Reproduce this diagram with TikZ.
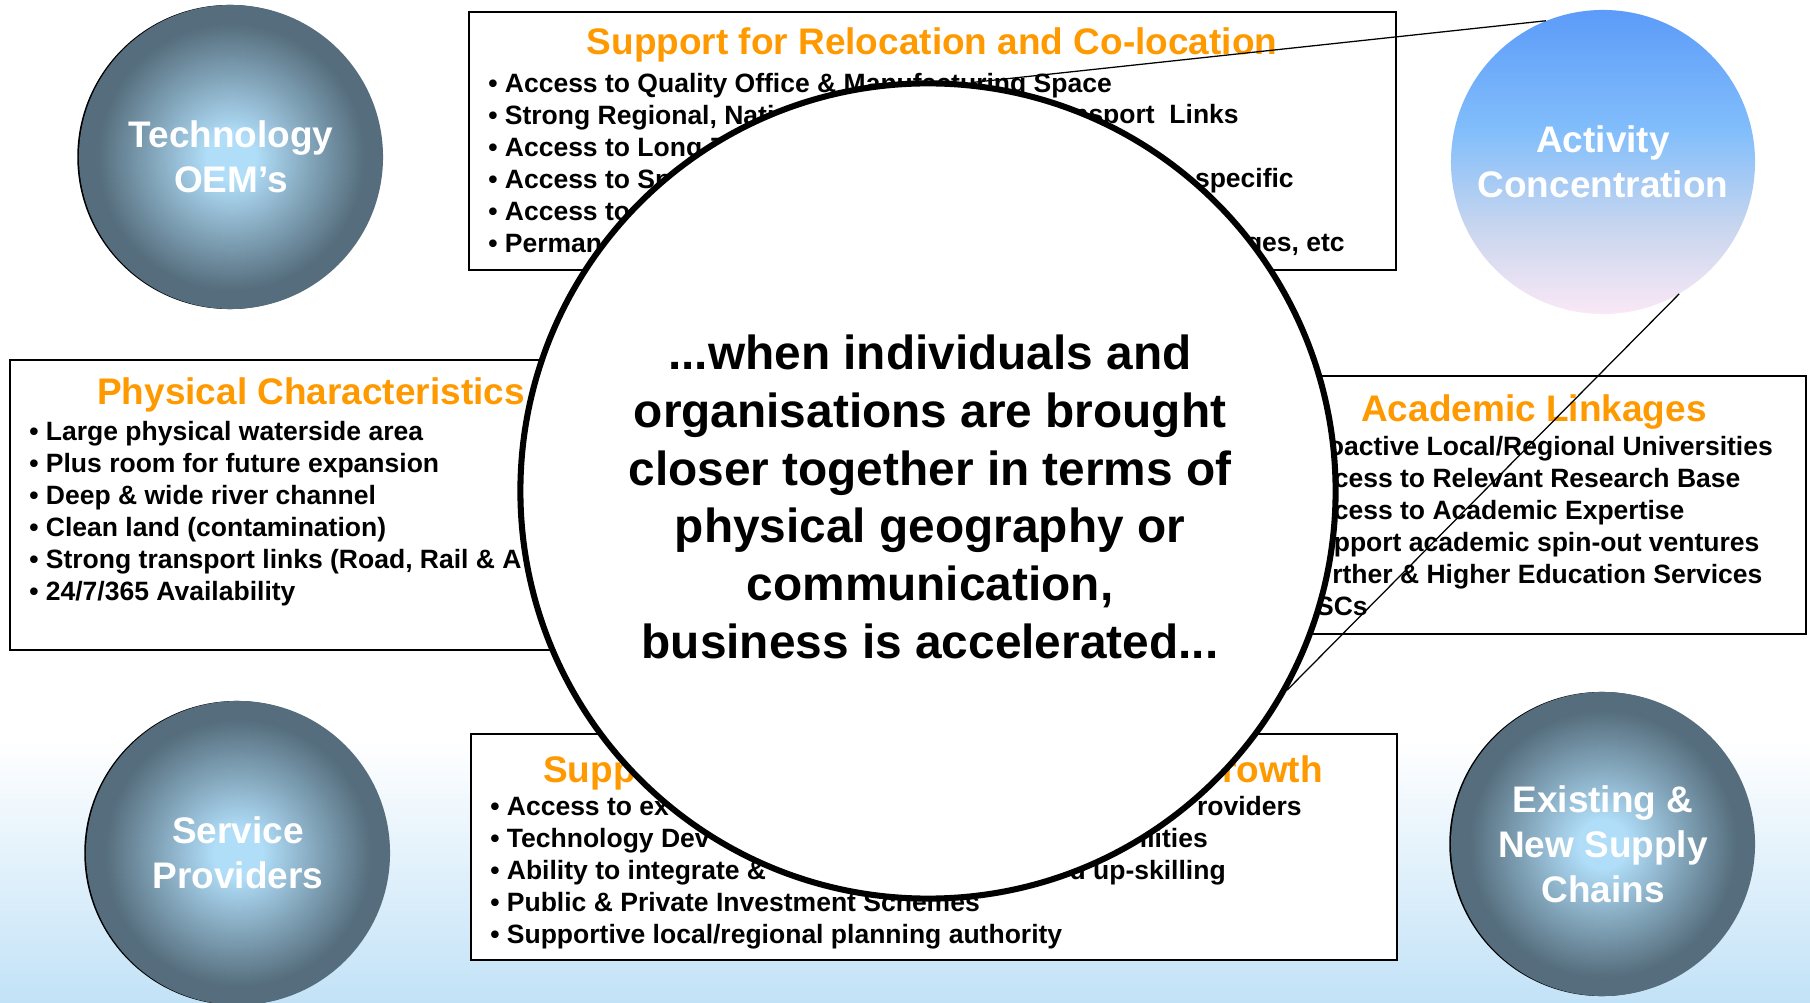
\documentclass[tikz,border=0pt]{standalone}
\usepackage{fontspec}
\setmainfont{Liberation Sans}

\definecolor{headorange}{HTML}{FF9900}
\definecolor{orbdark}{HTML}{556D7C}
\definecolor{orblight}{HTML}{B0DDF8}
\definecolor{acttop}{HTML}{5C9BF9}
\definecolor{actmid}{HTML}{82BEFB}
\definecolor{actlow}{HTML}{C9D6EE}
\definecolor{actbottom}{HTML}{FAE8F6}
\definecolor{skylow}{HTML}{C2E2F7}

\pgfdeclareradialshading{orbglow}{\pgfpoint{0bp}{0bp}}{color(0bp)=(orblight); color(4bp)=(orblight); color(22bp)=(orbdark); color(50bp)=(orbdark)}
\pgfdeclareverticalshading{actfade}{100bp}{color(0bp)=(actbottom); color(25bp)=(actbottom); color(39bp)=(actlow); color(55bp)=(actmid); color(75bp)=(acttop); color(100bp)=(acttop)}
\pgfdeclareverticalshading{skyfade}{100bp}{color(0bp)=(skylow); color(25bp)=(skylow); color(75bp)=(white); color(100bp)=(white)}

\begin{document}
\begin{tikzpicture}[x=0.025cm, y=-0.025cm,
    box/.style={rectangle, draw, line width=1.3pt, fill=white, inner sep=0pt},
    head/.style={inner sep=0pt, text=headorange, font=\bfseries\fontsize{26.3}{31}\selectfont},
    items/.style={inner sep=0pt, anchor=north west, align=left, font=\bfseries\fontsize{18.85}{22.76}\selectfont},
    bit/.style={inner sep=0pt, anchor=base east, font=\bfseries\fontsize{18.85}{22.76}\selectfont},
    ball/.style={circle, inner sep=0pt, minimum size=7.6cm, text=white, align=center, font=\bfseries\fontsize{26.3}{32}\selectfont},
    orb/.style={ball, shade, shading=orbglow, preaction={fill=black, transform canvas={xshift=-1.2pt}}},
    hub/.style={circle, draw, line width=4.3pt, fill=white, inner sep=0pt, minimum size=20.375cm},
    hubtext/.style={inner sep=0pt, align=center, font=\bfseries\fontsize{34}{41}\selectfont},
    link/.style={line width=0.9pt}]

    \path[use as bounding box] (0,0) rectangle (1810,1003);
    \fill[white] (0,0) rectangle (1810,1003);
    \shade[shading=skyfade] (0,740) rectangle (1810,1003);

    \node[box, minimum width=23.175cm, minimum height=6.45cm] (2) at (932.5,141) {};
    \node[box, minimum width=15.15cm, minimum height=7.25cm] (3) at (313,505) {};
    \node[box, minimum width=13.55cm, minimum height=6.45cm] (4) at (1535,505) {};
    \node[box, minimum width=23.15cm, minimum height=5.65cm] (5) at (934,847) {};

    \node[head, anchor=base] (2h) at (932,55) {Support for Relocation and Co-location};
    \node[items] (2l) at (488,69.6) {\strut• Access to Quality Office \& Manufacturing Space\\
        • Strong Regional, Nati\\
        • Access to Long-T\\
        • Access to Sp\\
        • Access to\\
        • Perman};
    \node[bit] (2a) at (1239,124) {nsport\ \ Links};
    \node[bit] (2b) at (1294,188) {specific};
    \node[bit] (2c) at (1345,252) {ges, etc};

    \node[head, anchor=base west] (3h) at (97,405) {Physical Characteristics};
    \node[items] (3l) at (29,417.6) {\strut• Large physical waterside area\\
        • Plus room for future expansion\\
        • Deep \& wide river channel\\
        • Clean land (contamination)\\
        • Strong transport links (Road, Rail \& A\\
        • 24/7/365 Availability};

    \node[head, anchor=base west] (4h) at (1361,422) {Academic Linkages};
    \node[items] (4l) at (1283,432.6) {\strut\phantom{• Pr}oactive Local/Regional Universities\\
        \phantom{• Ac}cess to Relevant Research Base\\
        \phantom{• Ac}cess to Academic Expertise\\
        \phantom{• Su}pport academic spin-out ventures\\
        \phantom{• Fu}rther \& Higher Education Services\\
        \phantom{• T}SCs};

    \node[head, anchor=base west] (5h) at (543,782) {Supp};
    \node[head, anchor=base east] (5k) at (1323,782) {rowth};
    \node[items] (5l) at (490,792.6) {\strut• Access to ex\\
        • Technology Dev\\
        • Ability to integrate \&\\
        • Public \& Private Investment Schemes\\
        • Supportive local/regional planning authority};
    \node[bit] (5a) at (1302,815) {roviders};
    \node[bit] (5b) at (1208,847) {ilities};
    \node[bit] (5c) at (1226,879) {d up-skilling};

    \node[hub] (1) at (928,491) {};
    \node[hubtext] (1t) at (930,497) {...when individuals and\\
        organisations are brought\\
        closer together in terms of\\
        physical geography or\\
        communication,\\
        business is accelerated...};

    \node[orb] (6) at (231,157) {Technology\\OEM’s};
    \node[ball, shade, shading=actfade] (7) at (1603,162) {Activity\\Concentration};
    \node[orb] (8) at (238,853) {Service\\Providers};
    \node[orb] (9) at (1603,844) {Existing \&\\New Supply\\Chains};

    \path
        (7.112) edge[link] (1.84)
        (7.-60) edge[link] (1.-29)
        ;
\end{tikzpicture}
\end{document}
